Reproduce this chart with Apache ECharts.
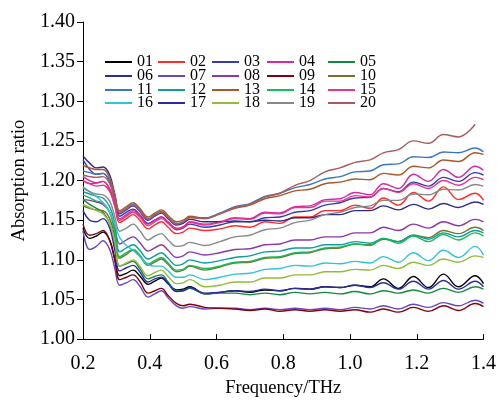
<!DOCTYPE html>
<html><head><meta charset="utf-8">
<script src="https://cdn.jsdelivr.net/npm/echarts@6/dist/echarts.min.js"></script>
<style>html,body{margin:0;padding:0;background:#fff}#c{width:499px;height:403px}</style>
</head><body><div id="c"></div>
<script>
const freq = [0.20,0.22,0.24,0.26,0.28,0.295,0.31,0.33,0.35,0.37,0.395,0.415,0.435,0.455,0.48,0.50,0.52,0.565,0.61,0.655,0.70,0.745,0.79,0.835,0.88,0.925,0.97,1.015,1.06,1.10,1.145,1.19,1.235,1.28,1.325,1.375,1.40];
const names = ['01','02','03','04','05','06','07','08','09','10','11','12','13','14','15','16','17','18','19','20'];
const s01 = [1.140,1.127,1.130,1.135,1.125,1.102,1.080,1.083,1.087,1.080,1.069,1.073,1.077,1.070,1.062,1.063,1.066,1.057,1.059,1.061,1.059,1.062,1.061,1.064,1.063,1.066,1.065,1.068,1.066,1.076,1.064,1.079,1.065,1.082,1.066,1.080,1.070];
const s02 = [1.200,1.196,1.197,1.199,1.188,1.168,1.147,1.152,1.157,1.150,1.139,1.144,1.148,1.141,1.133,1.135,1.140,1.137,1.139,1.143,1.141,1.148,1.146,1.154,1.154,1.162,1.162,1.169,1.165,1.178,1.169,1.185,1.174,1.192,1.176,1.184,1.175];
const s03 = [1.226,1.214,1.208,1.209,1.198,1.176,1.155,1.160,1.164,1.157,1.146,1.150,1.154,1.147,1.138,1.140,1.145,1.141,1.144,1.148,1.148,1.153,1.154,1.160,1.162,1.169,1.172,1.178,1.179,1.190,1.186,1.198,1.193,1.204,1.199,1.210,1.207];
const s04 = [1.205,1.200,1.197,1.199,1.190,1.172,1.152,1.157,1.162,1.156,1.145,1.150,1.154,1.148,1.140,1.142,1.148,1.145,1.148,1.153,1.152,1.160,1.159,1.167,1.168,1.176,1.177,1.185,1.182,1.196,1.190,1.208,1.199,1.214,1.204,1.218,1.213];
const s05 = [1.176,1.170,1.165,1.160,1.146,1.120,1.092,1.095,1.098,1.089,1.076,1.079,1.081,1.072,1.061,1.061,1.064,1.057,1.058,1.058,1.056,1.058,1.056,1.059,1.057,1.059,1.057,1.060,1.057,1.061,1.058,1.062,1.058,1.064,1.059,1.066,1.063];
const s06 = [1.231,1.222,1.216,1.217,1.207,1.183,1.158,1.163,1.168,1.161,1.150,1.155,1.159,1.152,1.144,1.146,1.151,1.148,1.148,1.149,1.148,1.150,1.149,1.153,1.153,1.157,1.157,1.162,1.162,1.168,1.163,1.170,1.164,1.171,1.166,1.173,1.170];
const s07 = [1.137,1.113,1.117,1.124,1.113,1.090,1.068,1.071,1.075,1.067,1.053,1.057,1.061,1.052,1.042,1.039,1.041,1.038,1.039,1.039,1.037,1.039,1.037,1.039,1.037,1.039,1.037,1.040,1.038,1.042,1.038,1.044,1.040,1.046,1.042,1.049,1.045];
const s08 = [1.176,1.175,1.173,1.170,1.160,1.140,1.120,1.125,1.129,1.122,1.111,1.115,1.119,1.112,1.103,1.105,1.110,1.106,1.109,1.113,1.114,1.119,1.120,1.125,1.125,1.129,1.129,1.134,1.134,1.141,1.137,1.145,1.140,1.148,1.143,1.151,1.148];
const s09 = [1.145,1.131,1.133,1.137,1.124,1.100,1.075,1.078,1.081,1.073,1.058,1.061,1.064,1.055,1.045,1.042,1.044,1.040,1.039,1.038,1.036,1.038,1.035,1.037,1.035,1.037,1.035,1.037,1.034,1.038,1.034,1.040,1.035,1.042,1.036,1.045,1.041];
const s10 = [1.168,1.165,1.163,1.162,1.152,1.130,1.102,1.107,1.112,1.105,1.093,1.097,1.101,1.094,1.085,1.087,1.092,1.087,1.091,1.096,1.097,1.102,1.103,1.108,1.109,1.114,1.115,1.120,1.119,1.126,1.123,1.131,1.128,1.137,1.133,1.141,1.137];
const s11 = [1.212,1.210,1.208,1.209,1.199,1.180,1.160,1.165,1.170,1.163,1.152,1.157,1.161,1.154,1.146,1.148,1.154,1.153,1.159,1.167,1.171,1.180,1.184,1.191,1.195,1.202,1.205,1.211,1.212,1.220,1.221,1.230,1.229,1.236,1.235,1.241,1.236];
const s12 = [1.186,1.183,1.180,1.178,1.167,1.146,1.110,1.115,1.119,1.112,1.101,1.105,1.109,1.102,1.093,1.095,1.100,1.096,1.099,1.103,1.105,1.110,1.111,1.115,1.115,1.119,1.119,1.123,1.121,1.127,1.123,1.131,1.126,1.134,1.129,1.137,1.134];
const s13 = [1.219,1.216,1.214,1.214,1.203,1.183,1.162,1.167,1.172,1.165,1.154,1.159,1.163,1.156,1.148,1.150,1.155,1.152,1.158,1.165,1.169,1.177,1.181,1.187,1.189,1.196,1.198,1.202,1.201,1.209,1.207,1.218,1.216,1.226,1.224,1.235,1.233];
const s14 = [1.182,1.178,1.174,1.172,1.160,1.135,1.104,1.109,1.113,1.106,1.095,1.099,1.103,1.096,1.087,1.088,1.093,1.089,1.092,1.097,1.098,1.103,1.104,1.109,1.110,1.115,1.116,1.120,1.118,1.127,1.121,1.130,1.123,1.132,1.125,1.134,1.130];
const s15 = [1.200,1.196,1.193,1.194,1.186,1.169,1.150,1.155,1.160,1.154,1.143,1.148,1.152,1.146,1.139,1.141,1.147,1.144,1.147,1.152,1.151,1.159,1.158,1.166,1.166,1.174,1.174,1.181,1.179,1.190,1.185,1.196,1.190,1.200,1.194,1.204,1.201];
const s16 = [1.192,1.186,1.180,1.172,1.160,1.145,1.128,1.118,1.112,1.104,1.094,1.092,1.092,1.086,1.078,1.078,1.081,1.075,1.078,1.082,1.083,1.088,1.089,1.093,1.092,1.096,1.095,1.098,1.096,1.104,1.097,1.109,1.099,1.112,1.103,1.117,1.106];
const s17 = [1.162,1.150,1.148,1.152,1.140,1.113,1.086,1.090,1.093,1.085,1.072,1.076,1.078,1.070,1.060,1.061,1.065,1.058,1.059,1.061,1.060,1.063,1.061,1.064,1.063,1.066,1.065,1.068,1.065,1.071,1.063,1.073,1.063,1.074,1.063,1.073,1.066];
const s18 = [1.170,1.166,1.162,1.158,1.146,1.122,1.092,1.096,1.100,1.092,1.080,1.084,1.087,1.079,1.070,1.071,1.075,1.066,1.068,1.072,1.072,1.077,1.077,1.081,1.081,1.085,1.085,1.088,1.087,1.093,1.089,1.097,1.093,1.101,1.097,1.105,1.103];
const s19 = [1.190,1.186,1.183,1.182,1.174,1.155,1.136,1.140,1.145,1.137,1.125,1.130,1.133,1.125,1.117,1.118,1.122,1.118,1.123,1.129,1.131,1.138,1.140,1.147,1.150,1.157,1.160,1.166,1.168,1.175,1.175,1.183,1.182,1.189,1.188,1.195,1.193];
const s20 = [1.207,1.205,1.204,1.205,1.196,1.178,1.159,1.164,1.169,1.162,1.151,1.156,1.160,1.153,1.145,1.148,1.153,1.152,1.158,1.166,1.170,1.179,1.184,1.194,1.200,1.211,1.216,1.223,1.226,1.235,1.239,1.250,1.247,1.258,1.255,1.271,null];
const yTicks = [1.00,1.05,1.10,1.15,1.20,1.25,1.30,1.35,1.40];
const xTicks = [0.2,0.4,0.6,0.8,1.0,1.2,1.4];

const allSeries = [s01,s02,s03,s04,s05,s06,s07,s08,s09,s10,s11,s12,s13,s14,s15,s16,s17,s18,s19,s20];
const colors = ['#000000','#ff2a2a','#3838b4','#d42aa8','#138a42','#2e2e86','#6a46bc','#8a38a8','#820010','#747428','#3a76c6','#0e9c9c','#a8582a','#16bc5a','#e8358c','#32c4d6','#2a2aa4','#96ba3c','#888888','#a85a60'];

const FONT = '"Liberation Serif","Times New Roman",serif';
const colX = [105,158,212,267,328];
const rowY = [63,77,91,104];

const legends = names.map((n,i)=>({
  data:[n], left: colX[i%5], top: rowY[Math.floor(i/5)]-9, padding:0,
  icon:'rect', itemWidth:27, itemHeight:2, itemGap:0,
  textStyle:{fontFamily:FONT, fontSize:16, color:'#000', padding:[0,0,0,0]},
  selectedMode:false
}));

const series = names.map((n,i)=>({
  name:n, type:'line', smooth:0.4, symbol:'none', connectNulls:false,
  lineStyle:{width:1.4, color:colors[i]}, itemStyle:{color:colors[i]},
  data: freq.map((f,k)=> allSeries[i][k]==null ? null : [f, allSeries[i][k]]).filter(d=>d!==null),
  animation:false
}));

const chart = echarts.init(document.getElementById('c'), null, {renderer:'canvas'});
chart.setOption({
  backgroundColor:'#ffffff',
  animation:false,
  legend: legends,
  grid:{left:83, right:15, top:22, bottom:55, containLabel:false},
  xAxis:{type:'value', min:0.2, max:1.4, interval:0.2,
    name:'Frequency/THz', nameLocation:'middle', nameGap:38,
    nameTextStyle:{fontFamily:FONT, fontSize:18.5, color:'#000'},
    axisLine:{show:true, onZero:false, lineStyle:{color:'#000', width:1}},
    axisTick:{show:true, inside:true, length:5, lineStyle:{color:'#000'}},
    axisLabel:{fontFamily:FONT, fontSize:20, color:'#000', margin:15, formatter:v=>v.toFixed(1)},
    splitLine:{show:false}},
  yAxis:{type:'value', min:1.0, max:1.4, interval:0.05,
    name:'Absorption ratio', nameLocation:'middle', nameGap:51, nameRotate:90,
    nameTextStyle:{fontFamily:FONT, fontSize:18.5, color:'#000'},
    axisLine:{show:true, onZero:false, lineStyle:{color:'#000', width:1}},
    axisTick:{show:true, inside:false, length:6, lineStyle:{color:'#000'}},
    axisLabel:{fontFamily:FONT, fontSize:20, color:'#000', margin:8, formatter:v=>v.toFixed(2)},
    splitLine:{show:false}},
  series: series
});
</script></body></html>
